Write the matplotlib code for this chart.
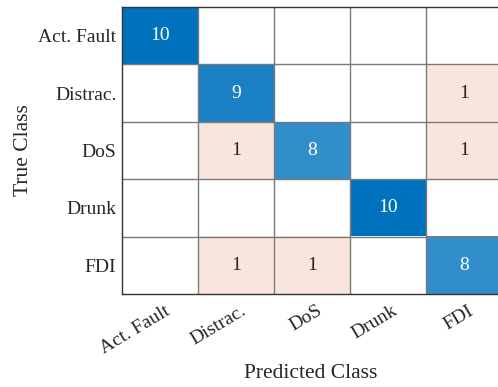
import numpy as np
import matplotlib.pyplot as plt
import matplotlib.transforms as mtransforms
from matplotlib.colors import to_rgb

plt.rcParams['font.family'] = ['Liberation Serif', 'DejaVu Serif']

classes = ['Act. Fault', 'Distrac.', 'DoS', 'Drunk', 'FDI']
counts = np.array([
    [10, 0, 0, 0, 0],
    [0, 9, 0, 0, 1],
    [0, 1, 8, 0, 1],
    [0, 0, 0, 10, 0],
    [0, 1, 1, 0, 8],
])

diag_col = np.array(to_rgb('#0072BD'))
off_col = np.array([248, 230, 222]) / 255.0
txt_dark = '#262626'

n = len(classes)
vmax = counts.max()
rgb = np.ones((n, n, 3))
for i in range(n):
    for j in range(n):
        v = counts[i, j]
        if v == 0:
            continue
        if i == j:
            f = v / vmax
            rgb[i, j] = 1 - f * (1 - diag_col)
        else:
            rgb[i, j] = off_col

fig = plt.figure(figsize=(4.98, 3.87), dpi=100)
ax = fig.add_axes([122 / 498, 1 - 294 / 387, 380 / 498, 287 / 387])

ax.imshow(rgb, aspect='auto', interpolation='nearest',
          extent=(-0.5, n - 0.5, n - 0.5, -0.5))

# cell grid
for k in range(1, n):
    ax.axhline(k - 0.5, color='#7a7a7a', lw=1.0)
    ax.axvline(k - 0.5, color='#7a7a7a', lw=1.0)
for s in ax.spines.values():
    s.set_color('#333333')
    s.set_linewidth(1.0)

for i in range(n):
    for j in range(n):
        v = counts[i, j]
        if v == 0:
            continue
        c = 'white' if i == j else txt_dark
        ax.text(j, i, str(v), ha='center', va='center', fontsize=14, color=c)

ax.set_xlim(-0.5, n - 0.5)
ax.set_ylim(n - 0.5, -0.5)
ax.set_xticks(range(n))
ax.set_yticks(range(n))
ax.set_yticklabels(classes, fontsize=14, color=txt_dark)
ax.set_xticklabels(classes, fontsize=14, color=txt_dark, rotation=31,
                   ha='right', va='top', rotation_mode='anchor')
ax.tick_params(axis='y', length=0, pad=4)
ax.tick_params(axis='x', length=0, pad=6)
shift = mtransforms.ScaledTranslation(4 / 100, 0, fig.dpi_scale_trans)
for lbl in ax.get_xticklabels():
    lbl.set_transform(lbl.get_transform() + shift)

ax.set_xlabel('Predicted Class', fontsize=15.5, color=txt_dark)
ax.set_ylabel('True Class', fontsize=15.5, color=txt_dark)
ax.xaxis.set_label_coords(0.497, -0.245)
ax.yaxis.set_label_coords(-0.234, 0.5)

fig.savefig('out.png', dpi=100)
